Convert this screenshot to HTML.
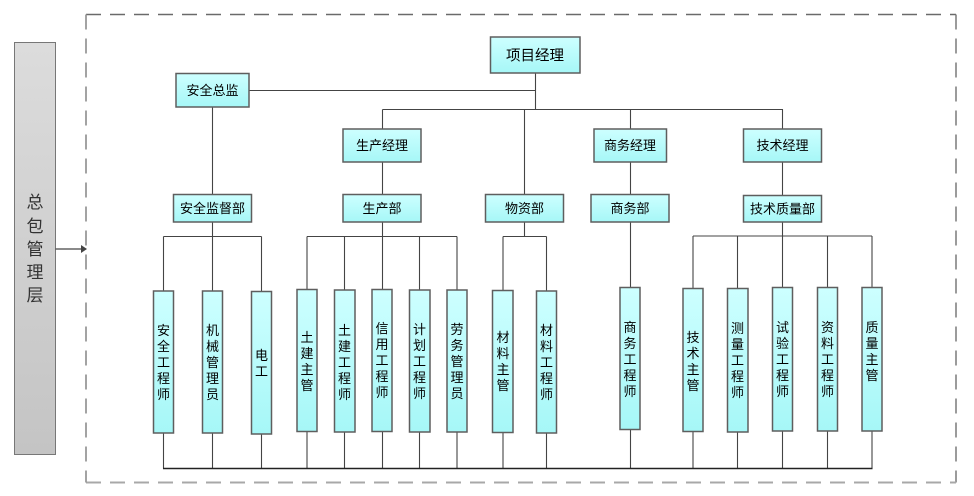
<!DOCTYPE html>
<html>
<head>
<meta charset="utf-8">
<style>
html,body{margin:0;padding:0;background:#fff;}
svg{display:block;}
text{font-family:"Liberation Sans","Noto Sans CJK SC","WenQuanYi Zen Hei",sans-serif;fill:#000;}
</style>
</head>
<body>
<svg width="974" height="496" viewBox="0 0 974 496" xmlns="http://www.w3.org/2000/svg">
<defs>
<linearGradient id="cy" x1="0" y1="0" x2="0" y2="1">
<stop offset="0" stop-color="#cdffff"/>
<stop offset="1" stop-color="#a6f7f7"/>
</linearGradient>
<linearGradient id="gy" x1="0" y1="0" x2="0" y2="1">
<stop offset="0" stop-color="#dcdcdc"/>
<stop offset="1" stop-color="#c4c4c4"/>
</linearGradient>
</defs>

<!-- dashed frame -->
<line x1="86" y1="14.5" x2="956" y2="14.5" stroke="#6a6a6a" stroke-width="1.5" stroke-dasharray="15,9"/>
<line x1="956" y1="14.5" x2="956" y2="482.5" stroke="#7a7a7a" stroke-width="1.5" stroke-dasharray="15,9"/>
<line x1="86" y1="482.5" x2="956" y2="482.5" stroke="#a8a8a8" stroke-width="2" stroke-dasharray="15,9"/>
<line x1="86" y1="14.5" x2="86" y2="482.5" stroke="#999" stroke-width="1.8" stroke-dasharray="15,9"/>

<!-- left panel -->
<rect x="14.5" y="42.5" width="41" height="412" fill="url(#gy)" stroke="#777" stroke-width="1"/>
<g font-size="17" text-anchor="middle" style="fill:#333">
<text x="35" y="208" style="fill:#333">总</text>
<text x="35" y="232" style="fill:#333">包</text>
<text x="35" y="255" style="fill:#333">管</text>
<text x="35" y="278" style="fill:#333">理</text>
<text x="35" y="301" style="fill:#333">层</text>
</g>
<!-- arrow -->
<line x1="55.5" y1="249" x2="82" y2="249" stroke="#444" stroke-width="1.2"/>
<polygon points="81,245 87,249 81,253" fill="#444"/>

<!-- connectors -->
<g stroke="#444" stroke-width="1.1" fill="none">
<line x1="249" y1="90.5" x2="535.5" y2="90.5"/>
<line x1="535.5" y1="73" x2="535.5" y2="109.5"/>
<line x1="382.5" y1="109.5" x2="783" y2="109.5"/>
<line x1="382.5" y1="109.5" x2="382.5" y2="129"/>
<line x1="524.5" y1="109.5" x2="524.5" y2="194.5"/>
<line x1="630.5" y1="109.5" x2="630.5" y2="129"/>
<line x1="782.5" y1="109.5" x2="782.5" y2="129"/>
<line x1="212.5" y1="107" x2="212.5" y2="194.5"/>
<line x1="382.5" y1="162" x2="382.5" y2="194.5"/>
<line x1="630.5" y1="162" x2="630.5" y2="194.5"/>
<line x1="782.5" y1="162" x2="782.5" y2="195.5"/>

<line x1="212.5" y1="222" x2="212.5" y2="236.5"/>
<line x1="382.5" y1="222" x2="382.5" y2="236.5"/>
<line x1="524.5" y1="222" x2="524.5" y2="236.5"/>
<line x1="630.5" y1="222" x2="630.5" y2="287.5"/>
<line x1="782.5" y1="222" x2="782.5" y2="236.5"/>

<line x1="163.5" y1="236.5" x2="261.5" y2="236.5"/>
<line x1="307" y1="236.5" x2="457" y2="236.5"/>
<line x1="503" y1="236.5" x2="546.5" y2="236.5"/>
<line x1="693" y1="236" x2="872" y2="236"/>

<!-- verticals to bottom boxes -->
<line x1="163.5" y1="236.5" x2="163.5" y2="468.5"/>
<line x1="212.5" y1="236.5" x2="212.5" y2="468.5"/>
<line x1="261.5" y1="236.5" x2="261.5" y2="468.5"/>
<line x1="307" y1="236.5" x2="307" y2="468.5"/>
<line x1="344.5" y1="236.5" x2="344.5" y2="468.5"/>
<line x1="382.5" y1="236.5" x2="382.5" y2="468.5"/>
<line x1="419.5" y1="236.5" x2="419.5" y2="468.5"/>
<line x1="457" y1="236.5" x2="457" y2="468.5"/>
<line x1="503" y1="236.5" x2="503" y2="468.5"/>
<line x1="546.5" y1="236.5" x2="546.5" y2="468.5"/>
<line x1="630.5" y1="287.5" x2="630.5" y2="468.5"/>
<line x1="693" y1="236" x2="693" y2="468.5"/>
<line x1="737.5" y1="236" x2="737.5" y2="468.5"/>
<line x1="782.5" y1="236" x2="782.5" y2="468.5"/>
<line x1="827.5" y1="236" x2="827.5" y2="468.5"/>
<line x1="872" y1="236" x2="872" y2="468.5"/>
</g>
<line x1="163" y1="468.5" x2="872.5" y2="468.5" stroke="#222" stroke-width="1.6"/>

<!-- horizontal boxes -->
<g stroke="#5e5e5e" stroke-width="1.5" fill="url(#cy)">
<rect x="490.5" y="37" width="89.5" height="36"/>
<rect x="176" y="73.5" width="73" height="33.5"/>
<rect x="343" y="129" width="78" height="33"/>
<rect x="594" y="129" width="72.5" height="33"/>
<rect x="743.5" y="129" width="78" height="33"/>
<rect x="173.5" y="194.5" width="78" height="27.5"/>
<rect x="343" y="194.5" width="78" height="27.5"/>
<rect x="485.5" y="194.5" width="78" height="27.5"/>
<rect x="591" y="194.5" width="78" height="27.5"/>
<rect x="743.5" y="195.5" width="78" height="26.5"/>
</g>
<g text-anchor="middle" font-size="13">
<text x="535" y="60.5" font-size="14.5">项目经理</text>
<text x="212.5" y="95">安全总监</text>
<text x="382" y="150">生产经理</text>
<text x="630" y="150">商务经理</text>
<text x="782.5" y="150">技术经理</text>
<text x="212.5" y="213">安全监督部</text>
<text x="382" y="213">生产部</text>
<text x="524.5" y="213">物资部</text>
<text x="630" y="213">商务部</text>
<text x="782.5" y="213.5">技术质量部</text>
</g>

<!-- vertical boxes -->
<g stroke="#5e5e5e" stroke-width="1.5" fill="url(#cy)">
<rect x="153.5" y="291" width="20" height="142"/>
<rect x="202.5" y="291" width="20" height="142"/>
<rect x="251.5" y="291.5" width="20" height="142.5"/>
<rect x="297" y="289.5" width="20" height="142"/>
<rect x="334.5" y="290" width="20.5" height="142"/>
<rect x="372" y="289.5" width="20" height="142"/>
<rect x="409.5" y="290" width="20.5" height="142"/>
<rect x="447" y="290" width="20" height="142"/>
<rect x="492.5" y="290.5" width="20.5" height="142"/>
<rect x="536.5" y="291" width="20" height="142"/>
<rect x="620" y="287.5" width="20" height="142"/>
<rect x="683" y="288.5" width="20" height="143"/>
<rect x="727.5" y="288.5" width="20.5" height="143.5"/>
<rect x="772.5" y="287.5" width="20" height="143.5"/>
<rect x="817.5" y="287.5" width="20" height="143.5"/>
<rect x="862" y="287.5" width="20" height="143.5"/>
</g>
<g text-anchor="middle" font-size="13">
<!-- 安全工程师 -->
<text x="163.5" y="335">安</text><text x="163.5" y="351">全</text><text x="163.5" y="367">工</text><text x="163.5" y="383">程</text><text x="163.5" y="399">师</text>
<!-- 机械管理员 -->
<text x="212.5" y="335">机</text><text x="212.5" y="351">械</text><text x="212.5" y="367">管</text><text x="212.5" y="383">理</text><text x="212.5" y="399">员</text>
<!-- 电工 -->
<text x="261.5" y="360">电</text><text x="261.5" y="376">工</text>
<!-- 土建主管 -->
<text x="307" y="342">土</text><text x="307" y="358">建</text><text x="307" y="374">主</text><text x="307" y="390">管</text>
<!-- 土建工程师 -->
<text x="344.5" y="335">土</text><text x="344.5" y="351">建</text><text x="344.5" y="367">工</text><text x="344.5" y="383">程</text><text x="344.5" y="399">师</text>
<!-- 信用工程师 -->
<text x="382" y="333">信</text><text x="382" y="349">用</text><text x="382" y="365">工</text><text x="382" y="381">程</text><text x="382" y="397">师</text>
<!-- 计划工程师 -->
<text x="419.5" y="334">计</text><text x="419.5" y="350">划</text><text x="419.5" y="366">工</text><text x="419.5" y="382">程</text><text x="419.5" y="398">师</text>
<!-- 劳务管理员 -->
<text x="457" y="334">劳</text><text x="457" y="350">务</text><text x="457" y="366">管</text><text x="457" y="382">理</text><text x="457" y="398">员</text>
<!-- 材料主管 -->
<text x="503" y="342">材</text><text x="503" y="358">料</text><text x="503" y="374">主</text><text x="503" y="390">管</text>
<!-- 材料工程师 -->
<text x="546.5" y="335">材</text><text x="546.5" y="351">料</text><text x="546.5" y="367">工</text><text x="546.5" y="383">程</text><text x="546.5" y="399">师</text>
<!-- 商务工程师 -->
<text x="630" y="332">商</text><text x="630" y="348">务</text><text x="630" y="364">工</text><text x="630" y="380">程</text><text x="630" y="396">师</text>
<!-- 技术主管 -->
<text x="693" y="342">技</text><text x="693" y="358">术</text><text x="693" y="374">主</text><text x="693" y="390">管</text>
<!-- 测量工程师 -->
<text x="737.5" y="333">测</text><text x="737.5" y="349">量</text><text x="737.5" y="365">工</text><text x="737.5" y="381">程</text><text x="737.5" y="397">师</text>
<!-- 试验工程师 -->
<text x="782.5" y="332">试</text><text x="782.5" y="348">验</text><text x="782.5" y="364">工</text><text x="782.5" y="380">程</text><text x="782.5" y="396">师</text>
<!-- 资料工程师 -->
<text x="827.5" y="332">资</text><text x="827.5" y="348">料</text><text x="827.5" y="364">工</text><text x="827.5" y="380">程</text><text x="827.5" y="396">师</text>
<!-- 质量主管 -->
<text x="872" y="332">质</text><text x="872" y="348">量</text><text x="872" y="364">主</text><text x="872" y="380">管</text>
</g>
</svg>
</body>
</html>
